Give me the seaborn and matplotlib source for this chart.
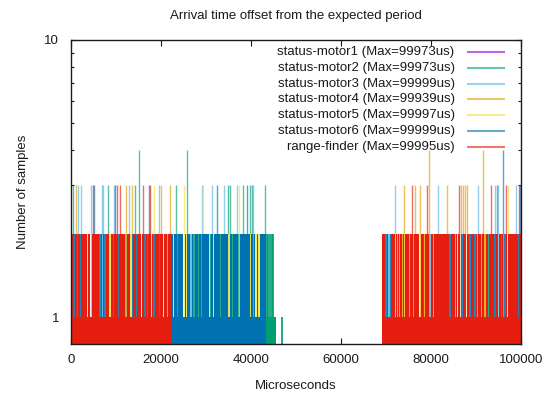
import matplotlib
matplotlib.use("Agg")
import matplotlib.pyplot as plt
import seaborn as sns
from matplotlib.ticker import FixedLocator, NullFormatter, FixedFormatter

# ---------------------------------------------------------------- data
series_labels = [
    "status-motor1 (Max=99973us)",
    "status-motor2 (Max=99973us)",
    "status-motor3 (Max=99999us)",
    "status-motor4 (Max=99939us)",
    "status-motor5 (Max=99997us)",
    "status-motor6 (Max=99999us)",
    "range-finder (Max=99995us)",
]
series_colors = ["#9400D3", "#009E73", "#56B4E9", "#E69F00",
                 "#F0E442", "#0072B2", "#E51E10"]

# dense ranges: (start_us, end_us, samples per bin)
motor1_spans = []
motor2_spans = [(43300, 45600, 1)]
motor3_spans = []
motor4_spans = []
motor5_spans = []
motor6_spans = [(22200, 43300, 2)]
range_finder_spans = [(0, 22200, 2), (69100, 100000, 2)]

# offsets inside a 2-sample range where the count falls back to 1
motor6_dips = [22730, 23620, 25110, 25710, 26670, 27330, 28290, 29040,
               30730, 31040, 31620, 33270, 35110, 35930, 37270, 37400,
               39930, 40510, 41110, 41780]
range_finder_dips = [667, 1400, 2150, 3620, 4440, 6440, 7040, 7560, 8670,
                     9400, 10510, 12220, 13330, 13710, 14600, 15710, 16440,
                     17040, 17930, 18440, 19620, 20510, 21490,
                     70000, 70670, 71040, 72070, 72600, 72960, 73620, 74070,
                     75180, 76070, 77560, 78290, 78440, 79780, 80510, 84220,
                     85400, 85840, 86670, 86890, 87930, 88670, 89780, 90380,
                     91260, 92000, 92730, 94220, 94960, 95700, 96070, 96400,
                     97040, 99400]

# isolated bins: offset (us) and number of samples
motor1_x, motor1_n = [], []

motor2_x = [23620, 27330, 28290, 29040, 31040, 33270, 35930, 37400, 40510,
            43480, 43850, 44220, 44600, 44820, 92730,
            380, 8220, 14290, 23330, 34820, 35330, 38160, 39710, 40150,
            43180, 94600, 15040, 25840, 46950]
motor2_n = [2] * 15 + [3] * 11 + [4, 4] + [1]

motor3_x = [7040, 12220, 21490, 26670, 70670, 75180, 79780, 85400, 91260,
            1620, 2220, 4440, 6820, 7110, 9490, 12820, 19620, 29040, 31270,
            33930, 36890, 40510, 72070, 81620, 90510, 94280, 94960, 98890]
motor3_n = [2] * 9 + [3] * 19

motor4_x = [72600, 72960, 73620, 76070, 78440, 80510, 90380, 92000,
            1180, 12150, 13550, 20070, 22000, 74070, 76510, 77560, 83490,
            86670, 87180, 87560, 87930, 79490, 91620]
motor4_n = [2] * 8 + [3] * 13 + [4, 4]

motor5_x = [3620, 8670, 13330, 15710, 17930, 20510, 22730, 25710, 30730,
            31620, 35110, 39930, 41110, 41780, 85840,
            18510, 25110, 29270, 37270, 97040]
motor5_n = [2] * 15 + [3] * 5

motor6_x = [667, 1400, 2150, 6440, 7560, 9400, 10510, 13710, 14600, 16440,
            17040, 18440, 19620, 70000, 71040, 78290, 84220, 86890, 88670,
            89780, 94220, 95700, 96400, 99400,
            5180, 9780, 17330, 32380, 39180, 99780, 96070]
motor6_n = [2] * 24 + [3] * 6 + [4]

range_finder_x = [4820, 10220, 10960, 15930, 17620, 75780, 79180, 86220,
                  93260, 96600, 99490]
range_finder_n = [3] * 11

x_ticks = [0, 20000, 40000, 60000, 80000, 100000]
y_major = [1, 10]
y_minor = [2, 3, 4, 5, 6, 7, 8, 9]

series = [
    (motor1_spans, [], motor1_x, motor1_n),
    (motor2_spans, [], motor2_x, motor2_n),
    (motor3_spans, [], motor3_x, motor3_n),
    (motor4_spans, [], motor4_x, motor4_n),
    (motor5_spans, [], motor5_x, motor5_n),
    (motor6_spans, motor6_dips, motor6_x, motor6_n),
    (range_finder_spans, range_finder_dips, range_finder_x, range_finder_n),
]

# ---------------------------------------------------------------- style
sns.set_theme(style="ticks")
FS = 9.5
plt.rcParams["font.family"] = ["Liberation Sans", "DejaVu Sans"]
plt.rcParams["font.size"] = FS
plt.rcParams["text.color"] = "#1a1a1a"
plt.rcParams["axes.labelcolor"] = "#1a1a1a"

W, H = 552, 397
fig = plt.figure(figsize=(W / 100, H / 100), dpi=100)
ax = fig.add_axes([71 / W, (H - 344) / H, 450 / W, 304 / H])
ax.set_yscale("log")

BASE = 0.5      # baseline below the visible range of the log axis
DIP_W = 320     # width of a dip in microseconds


def split_band(start, end, dips):
    """Return the sub-ranges of [start, end] left after removing the dips."""
    segs, cur = [], start
    for d in sorted(p for p in dips if start <= p <= end):
        lo, hi = d - DIP_W / 2, d + DIP_W / 2
        if lo > cur:
            segs.append((cur, lo))
        cur = max(cur, hi)
    if cur < end:
        segs.append((cur, end))
    return segs


for color, (spans, dips, px, pn) in zip(series_colors, series):
    # isolated bins as impulses
    for x, n in zip(px, pn):
        ax.vlines(x, BASE, n, color=color,
                  lw=1.3 if n <= 2 else 1.0,
                  alpha=0.95 if n <= 2 else 0.65, zorder=2)
    # dense ranges
    for s, e, n in spans:
        ax.bar(s, 1 - BASE, width=e - s, bottom=BASE, align="edge",
               color=color, linewidth=0, zorder=2)
        if n >= 2:
            for a, b in split_band(s, e, dips):
                ax.bar(a, n - 1, width=b - a, bottom=1, align="edge",
                       color=color, linewidth=0, zorder=2)

ax.set_xlim(0, 100000)
ax.set_ylim(0.8, 10)

ax.xaxis.set_major_locator(FixedLocator(x_ticks))
ax.set_xticklabels([str(t) for t in x_ticks])
ax.yaxis.set_major_locator(FixedLocator(y_major))
ax.yaxis.set_major_formatter(FixedFormatter([str(t) for t in y_major]))
ax.yaxis.set_minor_locator(FixedLocator(y_minor))
ax.yaxis.set_minor_formatter(NullFormatter())

ax.tick_params(axis="both", which="both", direction="in", top=True,
               right=True, colors="#1a1a1a", width=0.8)
ax.tick_params(axis="both", which="major", length=4)
ax.tick_params(axis="both", which="minor", length=2.5)
ax.tick_params(axis="x", which="major", pad=7, labelsize=FS)
ax.tick_params(axis="y", which="major", pad=8.5, labelsize=FS)
ax.tick_params(axis="x", which="minor", bottom=False, top=False)

for sp in ax.spines.values():
    sp.set_color("#1a1a1a")
    sp.set_linewidth(1.0)
    sp.set_zorder(5)

ax.set_title("Arrival time offset from the expected period", pad=15,
             fontsize=FS)
ax.set_xlabel("Microseconds", labelpad=10, fontsize=FS)
ax.set_ylabel("Number of samples", labelpad=11, fontsize=FS)

# key: right-aligned labels with the line sample after them
row_y = [52, 67.8, 83.6, 99.4, 115.2, 131, 146.8]
for label, color, y in zip(series_labels, series_colors, row_y):
    fy = (344 - y) / 304
    ax.text((454.5 - 71) / 450, fy, label, transform=ax.transAxes,
            ha="right", va="center", fontsize=FS, zorder=6)
    ax.plot([(467 - 71) / 450, (505 - 71) / 450], [fy, fy],
            transform=ax.transAxes, color=color, lw=1.5, alpha=0.6,
            solid_capstyle="butt", zorder=6)

fig.savefig("out.png", dpi=100)
